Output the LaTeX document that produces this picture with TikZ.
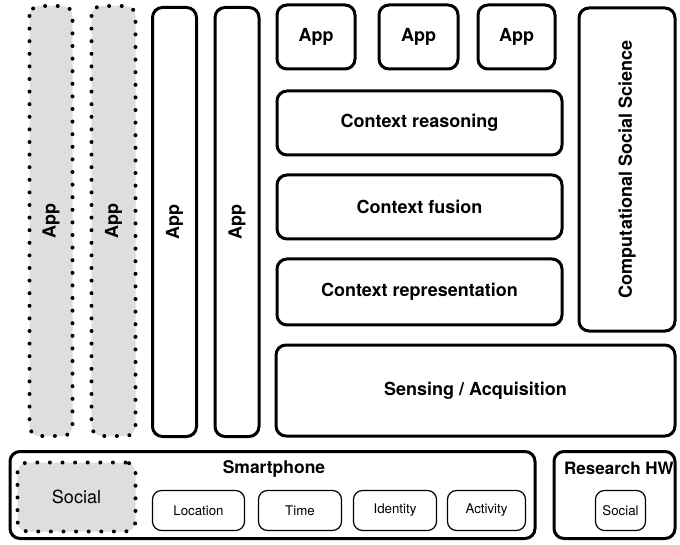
\documentclass[tikz,border=0pt]{standalone}
\usepackage{fontspec}
\setmainfont{TeX Gyre Heros}
\usetikzlibrary{shapes}

\begin{document}
\begin{tikzpicture}[x=1pt,y=-1pt]
\tikzset{
	layer/.style={draw,
		shape=rectangle,
		rounded corners=10pt,
		line width=3pt,
		font=\fontsize{18}{20}\selectfont\bfseries,
		inner sep=0pt
	},
	dotbox/.style={layer,
		line width=4pt,
		line cap=round,
		dash pattern=on 0pt off 12.6pt,
		fill=black!13
	},
	sensor/.style={draw,
		shape=rectangle,
		rounded corners=9pt,
		line width=1.2pt,
		font=\fontsize{13.3}{15}\selectfont,
		inner sep=0pt,
		minimum height=40pt
}}
\useasboundingbox (0,0) rectangle (680,545);
% vertical apps
\node[dotbox, rotate=90, minimum width=430pt, minimum height=43pt] (APPA) at (51,221) {App};
\node[dotbox, rotate=90, minimum width=430pt, minimum height=44pt] (APPB) at (113.5,221) {App};
\node[layer, rotate=90, minimum width=429pt, minimum height=44pt] (APPC) at (174.5,222) {App};
\node[layer, rotate=90, minimum width=429pt, minimum height=44pt] (APPD) at (237,222) {App};
% context stack
\node[layer, minimum width=78pt, minimum height=64pt] (APPE) at (316,37) {App};
\node[layer, minimum width=79pt, minimum height=64pt] (APPF) at (418.5,37) {App};
\node[layer, minimum width=77pt, minimum height=64pt] (APPG) at (516.5,37) {App};
\node[layer, minimum width=285pt, minimum height=64pt] (REASON) at (419.5,123) {Context reasoning};
\node[layer, minimum width=285pt, minimum height=64pt] (FUSION) at (419.5,207) {Context fusion};
\node[layer, minimum width=285pt, minimum height=66pt] (REPR) at (419.5,292) {Context representation};
\node[layer, rotate=90, minimum width=323pt, minimum height=96pt] (CSS) at (627,169.5) {Computational Social Science};
\node[layer, minimum width=399pt, minimum height=91pt] (SENSE) at (475.5,390.5) {Sensing / Acquisition};
% hardware
\node[layer, minimum width=525pt, minimum height=87pt] (PHONE) at (272.5,495) {};
\node[font=\fontsize{17.5}{19}\selectfont\bfseries] (PHONELBL) at (274,469) {Smartphone};
\node[layer, minimum width=121pt, minimum height=87pt] (RHW) at (614.5,495) {};
\node[font=\fontsize{17}{19}\selectfont\bfseries] (RHWLBL) at (619,468) {Research HW};
\node[dotbox, font=\fontsize{18}{20}\selectfont, minimum width=118pt, minimum height=69pt] (SOCIAL) at (76.5,497) {Social};
\node[sensor, minimum width=92pt] (LOC) at (198.5,510.5) {Location};
\node[sensor, minimum width=83pt] (TIME) at (300,510.5) {Time};
\node[sensor, minimum width=83pt] (IDENT) at (395,510.5) {Identity};
\node[sensor, minimum width=78pt] (ACT) at (486.5,510.5) {Activity};
\node[sensor, minimum width=50pt] (RSOC) at (620.5,510.5) {Social};
\end{tikzpicture}
\end{document}
